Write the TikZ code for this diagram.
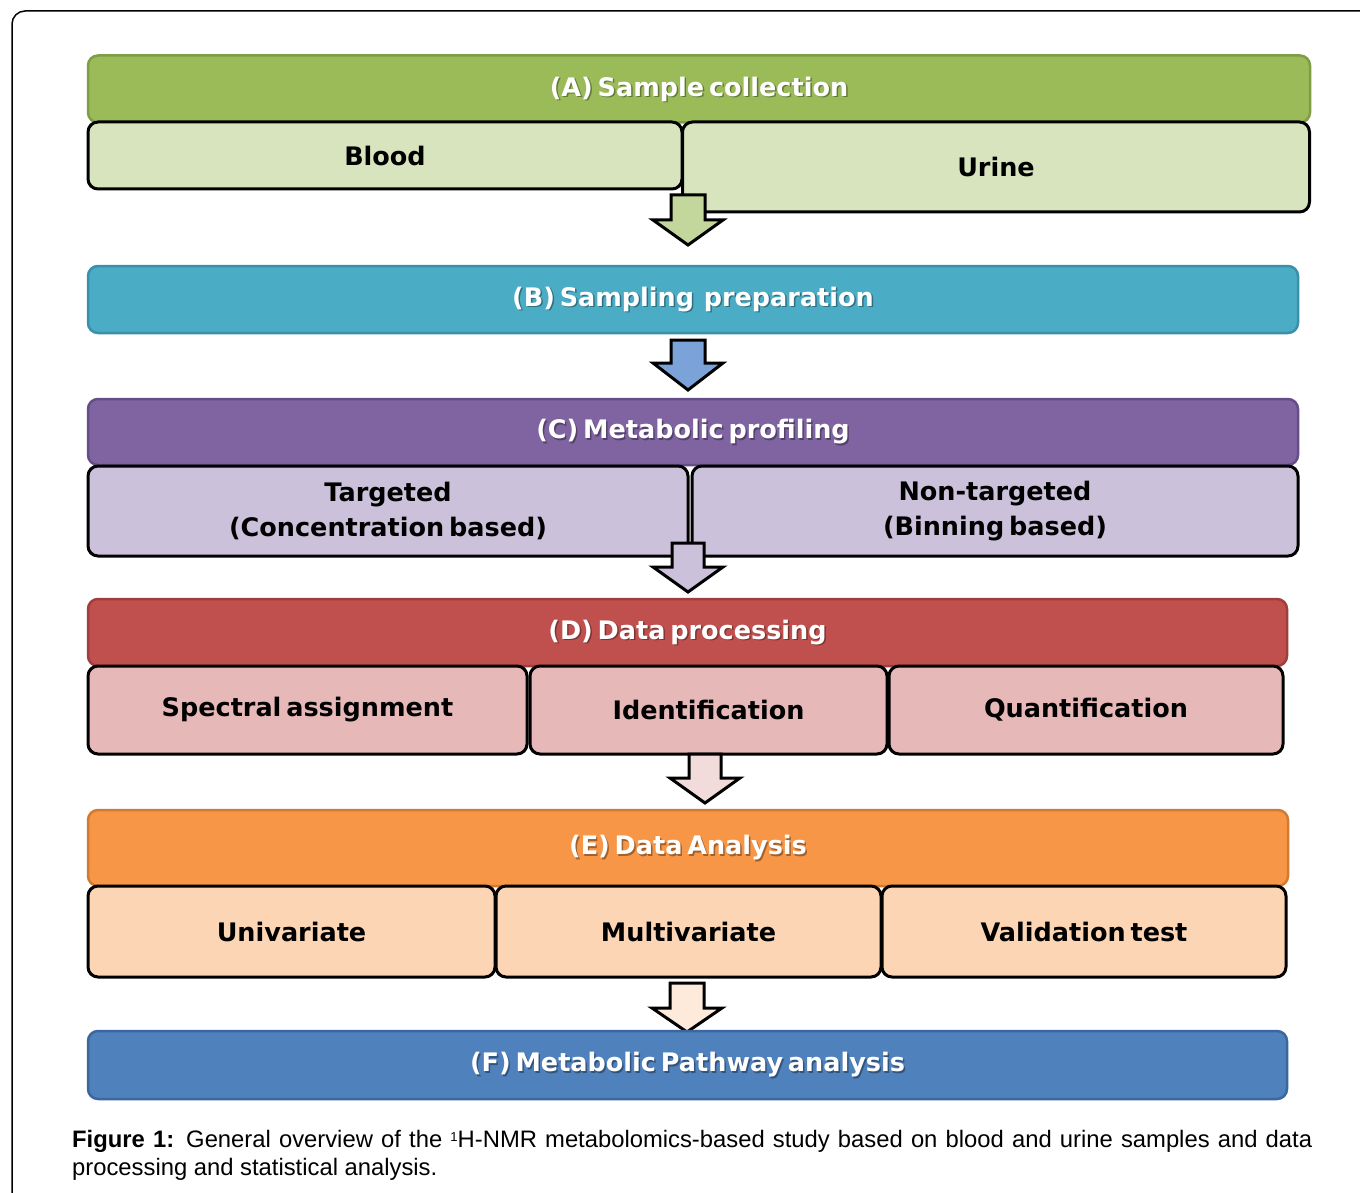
\documentclass[tikz,border=0pt]{standalone}
\usepackage{fontspec}
\setmainfont{Liberation Sans}
\newfontfamily\boxfont[WordSpace=0.55]{DejaVu Sans}
\newfontfamily\capfont{Liberation Sans}
\definecolor{aHead}{HTML}{9BBB59}\definecolor{aHeadD}{HTML}{7E9D44}\definecolor{aSub}{HTML}{D7E4BD}\definecolor{aArr}{HTML}{C3D69B}
\definecolor{bHead}{HTML}{4BACC6}\definecolor{bHeadD}{HTML}{3A90AA}\definecolor{bArr}{HTML}{7BA3DA}
\definecolor{cHead}{HTML}{8064A2}\definecolor{cHeadD}{HTML}{654E87}\definecolor{cSub}{HTML}{CCC1DA}
\definecolor{dHead}{HTML}{C0504D}\definecolor{dHeadD}{HTML}{A03E3B}\definecolor{dSub}{HTML}{E6B9B8}\definecolor{dArr}{HTML}{F2DCDB}
\definecolor{eHead}{HTML}{F79646}\definecolor{eHeadD}{HTML}{D27A30}\definecolor{eSub}{HTML}{FCD5B5}\definecolor{eArr}{HTML}{FDEADA}
\definecolor{fHead}{HTML}{4F81BD}\definecolor{fHeadD}{HTML}{3B679E}
\tikzset{
  headbox/.style={rectangle, rounded corners=10pt, line width=2.5pt, inner sep=0pt, text=white,
    font=\boxfont\bfseries\fontsize{25.5}{28}\selectfont},
  subbox/.style={rectangle, rounded corners=10pt, draw=black, line width=3pt, inner sep=0pt, align=center,
    font=\boxfont\bfseries\fontsize{25.5}{35}\selectfont, text=black},
  shadowtxt/.style={text=black, opacity=0.35, font=\boxfont\bfseries\fontsize{25.5}{28}\selectfont, inner sep=0pt},
  arrowline/.style={draw=black, line width=3pt, line join=miter},
  frameline/.style={draw=black, line width=1.5pt},
  captext/.style={anchor=base west, inner sep=0pt, font=\capfont\fontsize{23.8}{28}\selectfont}
}
\newcommand\blockarrow[6]{% cx, top, headbase, tip, halfshaft, fill
  \draw[arrowline, fill=#6] ({#1-#5},#2) -- ({#1+#5},#2) -- ({#1+#5},#3) -- ({#1+35},#3) -- (#1,#4)
    -- ({#1-35},#3) -- ({#1-#5},#3) -- cycle;}
\newcommand\headtext[3]{% name, pos, text
  \node[shadowtxt] at ($(#2)+(1.5,1.5)$) {#3};
  \node[headbox, text=white] (#1) at (#2) {#3};}
\usetikzlibrary{calc}
\begin{document}
\begin{tikzpicture}[x=1pt,y=-1pt]
\useasboundingbox (0,0) rectangle (1360,1193);
\fill[white] (0,0) rectangle (1360,1193);
% outer frame
\draw[frameline, rounded corners=13pt] (12,1193) -- (12,11) -- (1360,11);

% (A)
\node[headbox, draw=aHeadD, fill=aHead, minimum width=1222, minimum height=67] (A) at (699,89) {};
\node[subbox, fill=aSub, minimum width=594, minimum height=67] (blood) at (385,155.5) {Blood};
\node[subbox, fill=aSub, minimum width=627, minimum height=90] (urine) at (996,167) {Urine};
\headtext{Atxt}{A}{(A) Sample collection}
\blockarrow{688}{195}{220}{245}{17}{aArr}

% (B)
\node[headbox, draw=bHeadD, fill=bHead, minimum width=1210, minimum height=67] (B) at (693,299.5) {};
\headtext{Btxt}{B}{(B) Sampling\ \ preparation}
\blockarrow{688}{340}{363}{390}{17}{bArr}

% (C)
\node[headbox, draw=cHeadD, fill=cHead, minimum width=1210, minimum height=66] (C) at (693,432) {};
\node[subbox, fill=cSub, minimum width=600, minimum height=90] (targ) at (388,511) {Targeted\\(Concentration based)};
\node[subbox, fill=cSub, minimum width=606, minimum height=90] (ntarg) at (995,511) {Non-targeted\\(Binning based)};
\headtext{Ctxt}{C}{(C) Metabolic profiling}
\blockarrow{688}{543}{567}{592}{16}{cSub}

% (D)
\node[headbox, draw=dHeadD, fill=dHead, minimum width=1199, minimum height=67] (D) at (687.5,632.5) {};
\node[subbox, fill=dSub, minimum width=439, minimum height=88] (spec) at (307.5,710) {Spectral assignment};
\node[subbox, fill=dSub, minimum width=357, minimum height=88] (ident) at (708.5,710) {Identification};
\node[subbox, fill=dSub, minimum width=394, minimum height=88] (quant) at (1086,710) {Quantification};
\headtext{Dtxt}{D}{(D) Data processing}
\blockarrow{705}{754}{778}{803}{16}{dArr}

% (E)
\node[headbox, draw=eHeadD, fill=eHead, minimum width=1200, minimum height=76] (E) at (688,848) {};
\node[subbox, fill=eSub, minimum width=407, minimum height=91] (uni) at (291.5,931.5) {Univariate};
\node[subbox, fill=eSub, minimum width=385, minimum height=91] (multi) at (688.5,931.5) {\raisebox{-3pt}{Multivariate}};
\node[subbox, fill=eSub, minimum width=404, minimum height=91] (valid) at (1084,931.5) {Validation test};
\headtext{Etxt}{E}{(E) Data Analysis}
\blockarrow{687}{983}{1008}{1032}{17}{eArr}

% (F)
\node[headbox, draw=fHeadD, fill=fHead, minimum width=1199, minimum height=68] (F) at (687.5,1065) {};
\headtext{Ftxt}{F}{(F) Metabolic Pathway analysis}

% caption
\node[captext] (cap1) at (72,1147)
  {\makebox[1240pt][s]{\textbf{Figure 1:} General overview of the \raisebox{6pt}{\fontsize{13}{13}\selectfont 1}H-NMR metabolomics-based study based on blood and urine samples and data}};
\node[captext] (cap2) at (72,1175)
  {processing and statistical analysis.};
\end{tikzpicture}
\end{document}
